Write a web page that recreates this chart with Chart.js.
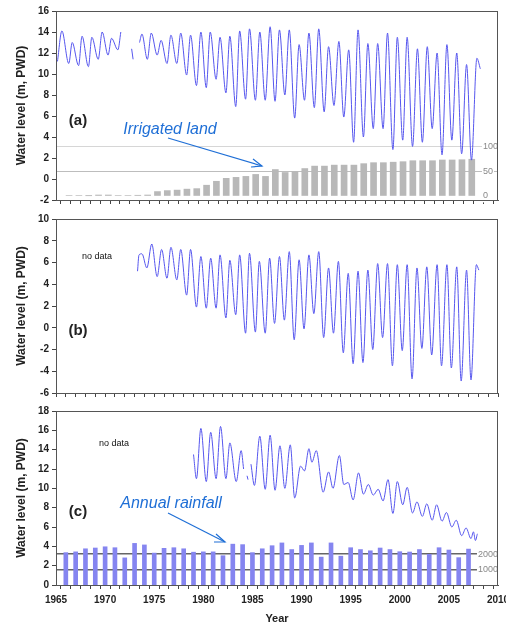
<!DOCTYPE html>
<html lang="en">
<head>
<meta charset="UTF-8">
<title>Water level hydrographs</title>
<script src="https://cdn.jsdelivr.net/npm/chart.js"></script>
<style>
  body { margin: 0; background: #fff; }
  #page { position: relative; width: 506px; height: 626px; overflow: hidden; font-family: "Liberation Sans", Arial, sans-serif; }
  canvas { position: absolute; left: 0; }
  .lbl { position: absolute; white-space: nowrap; transform: translate(-50%, -50%); }
  .panel { font-weight: bold; font-size: 15px; color: #222; }
  .nodata { font-size: 9px; color: #111; }
  .note { font-style: italic; font-size: 16px; color: #1f6fd6; }
  svg { position: absolute; left: 0; top: 0; }
</style>
</head>
<body>
<div id="page">
  <canvas id="chartA" width="506" height="210" style="top:0"></canvas>
  <canvas id="chartB" width="506" height="192" style="top:210px"></canvas>
  <canvas id="chartC" width="506" height="224" style="top:402px"></canvas>

  <div class="lbl panel" style="left:78px;top:119px">(a)</div>
  <div class="lbl panel" style="left:78px;top:329px">(b)</div>
  <div class="lbl panel" style="left:78px;top:510px">(c)</div>
  <div class="lbl nodata" style="left:97px;top:256px">no data</div>
  <div class="lbl nodata" style="left:114px;top:443px">no data</div>
  <div class="lbl note" style="left:170px;top:129px">Irrigated land</div>
  <div class="lbl note" style="left:171px;top:503px">Annual rainfall</div>
  <svg width="506" height="626">
    <g stroke="#1f6fd6" stroke-width="1.2" fill="none">
      <line x1="168" y1="138" x2="262" y2="166"/>
      <polyline points="253,159 262,166 251,167"/>
      <line x1="168" y1="513" x2="225" y2="542"/>
      <polyline points="216,534 225,542 214,542"/>
    </g>
  </svg>
</div>

<script>
// (a) water level, decimal year / m PWD (null = no record)
const timeA = [1965.15, 1965.6, 1966.3, 1966.65, 1967.3, 1967.65, 1968.3, 1968.65, 1969.3, 1969.7,
  1970.3, 1970.65, 1971.3, 1971.6, 1971.8, 1972.7, 1972.85, 1973.2, 1973.5, 1973.75,
  1974.3, 1974.7, 1975.3, 1975.7, 1976.3, 1976.7, 1977.3, 1977.7, 1978.3, 1978.7,
  1979.3, 1979.75, 1980.3, 1980.7, 1981.3, 1981.7, 1982.3, 1982.7, 1983.3, 1983.7,
  1984.3, 1984.7, 1985.3, 1985.75, 1986.3, 1986.8, 1987.3, 1987.75, 1988.3, 1988.75,
  1989.3, 1989.75, 1990.3, 1990.75, 1991.3, 1991.75, 1992.3, 1992.75, 1993.3, 1993.8,
  1994.3, 1994.8, 1995.3, 1995.75, 1996.3, 1996.75, 1997.3, 1997.75, 1998.3, 1998.75,
  1999.3, 1999.75, 2000.3, 2000.75, 2001.3, 2001.8, 2002.3, 2002.8, 2003.3, 2003.8,
  2004.3, 2004.8, 2005.3, 2005.8, 2006.3, 2006.8, 2007.3, 2007.85, 2008.2];
const levelA = [11.2, 14.1, 11.0, 13.0, 10.8, 13.6, 10.7, 13.5, 11.4, 14.0,
  11.8, 13.4, 12.3, 14.0, null, 12.4, 11.4, null, 13.0, 13.8,
  11.4, 13.9, 11.8, 13.2, 11.0, 13.7, 11.0, 13.9, 9.9, 13.7,
  8.9, 14.0, 8.7, 14.0, 9.5, 13.5, 8.2, 13.6, 6.9, 14.1,
  7.6, 14.3, 7.5, 14.0, 7.5, 14.5, 7.4, 14.2, 8.0, 14.2,
  5.8, 12.8, 7.5, 13.9, 6.8, 14.3, 6.4, 12.6, 7.0, 13.1,
  5.9, 12.3, 3.5, 14.2, 4.0, 12.9, 4.8, 12.9, 4.8, 13.9,
  2.8, 13.5, 3.7, 13.5, 3.1, 12.4, 3.5, 12.6, 4.8, 12.0,
  2.3, 12.8, 3.7, 12.0, 2.4, 10.9, 1.8, 11.5, 10.5];

// (b) water level
const timeB = [1973.3, 1973.45, 1973.75, 1974.25, 1974.75, 1975.3, 1975.75, 1976.3, 1976.7, 1977.3,
  1977.7, 1978.3, 1978.7, 1979.3, 1979.75, 1980.3, 1980.75, 1981.3, 1981.7, 1982.3,
  1982.7, 1983.3, 1983.7, 1984.3, 1984.7, 1985.3, 1985.7, 1986.3, 1986.75, 1987.25,
  1987.75, 1988.25, 1988.75, 1989.25, 1989.75, 1990.25, 1990.75, 1991.25, 1991.75, 1992.25,
  1992.75, 1993.25, 1993.75, 1994.25, 1994.75, 1995.25, 1995.75, 1996.25, 1996.75, 1997.25,
  1997.75, 1998.25, 1998.75, 1999.25, 1999.75, 2000.25, 2000.75, 2001.25, 2001.75, 2002.25,
  2002.75, 2003.25, 2003.8, 2004.25, 2004.8, 2005.25, 2005.8, 2006.25, 2006.8, 2007.25,
  2007.8, 2008.05];
const levelB = [5.2, 6.7, 6.8, 5.5, 7.7, 4.7, 7.2, 4.55, 7.4, 4.4,
  7.2, 3.0, 7.2, 1.9, 6.55, 1.8, 6.4, 1.8, 6.7, 0.9,
  6.2, 1.2, 6.7, -0.5, 6.85, -0.4, 6.1, -0.5, 6.4, 0.4,
  6.55, 0.7, 7.0, -1.1, 6.25, -0.1, 6.7, 1.3, 7.0, -0.9,
  5.5, -0.5, 6.1, -2.3, 5.0, -3.3, 5.2, -3.2, 5.3, -2.0,
  5.9, -0.9, 5.9, -3.5, 5.8, -2.1, 5.8, -4.7, 5.5, -1.9,
  5.6, -2.5, 5.8, -3.5, 5.8, -3.7, 5.6, -4.9, 5.3, -4.8,
  5.8, 5.3];

// (c) water level
const timeC = [1979.0, 1979.3, 1979.75, 1980.3, 1980.75, 1981.3, 1981.75, 1982.3, 1982.7, 1983.35,
  1983.85, 1984.1, 1984.3, 1984.45, 1984.55, 1984.7, 1984.85, 1985.2, 1985.75, 1986.3,
  1986.8, 1987.3, 1987.8, 1988.3, 1988.85, 1989.3, 1989.9, 1990.3, 1990.75, 1991.05,
  1991.5, 1992.2, 1992.75, 1993.2, 1993.85, 1994.3, 1994.75, 1995.25, 1995.8, 1996.3,
  1996.8, 1997.3, 1997.8, 1998.3, 1998.8, 1999.3, 1999.75, 2000.3, 2000.75, 2001.3,
  2001.75, 2002.3, 2002.75, 2003.3, 2003.75, 2004.3, 2004.75, 2005.3, 2005.75, 2006.3,
  2006.75, 2007.25, 2007.5, 2007.7, 2007.9];
const levelC = [13.5, 11.0, 16.2, 10.7, 15.8, 11.0, 16.4, 11.0, 14.7, 10.7,
  13.9, 12.0, null, 11.3, 10.9, null, 12.5, 10.3, 15.4, 9.9,
  15.5, 9.8, 14.4, 10.0, 14.5, 9.0, 12.3, 11.8, 14.1, 12.7,
  13.9, 9.6, 11.7, 10.0, 13.4, 10.4, 10.6, 8.8, 11.6, 9.4,
  10.4, 9.3, 9.9, 8.7, 10.9, 7.4, 10.7, 8.3, 10.1, 7.45,
  8.6, 7.1, 8.4, 6.7, 8.3, 6.6, 7.5, 6.0, 6.7, 5.1,
  5.9, 4.8, 5.5, 4.6, 5.3];

// bar years and annual values
const barYears = [1966, 1967, 1968, 1969, 1970, 1971, 1972, 1973, 1974, 1975, 1976, 1977, 1978, 1979,
  1980, 1981, 1982, 1983, 1984, 1985, 1986, 1987, 1988, 1989, 1990, 1991, 1992, 1993,
  1994, 1995, 1996, 1997, 1998, 1999, 2000, 2001, 2002, 2003, 2004, 2005, 2006, 2007];
const irrigatedPct = [1, 1, 0.5, 2, 2, 1, 1, 1.5, 2, 9, 11, 12, 14, 15,
  22, 30, 36, 38, 40, 44, 40, 54, 48, 50, 56, 61, 61, 63,
  63, 63, 66, 68, 68, 69, 70, 72, 72, 72, 73.5, 73.5, 74, 75];
const rainfallMm = [2100, 2150, 2350, 2400, 2480, 2420, 1760, 2700, 2600, 2070, 2380, 2420, 2350, 2130,
  2150, 2150, 1900, 2650, 2620, 2100, 2350, 2550, 2730, 2300, 2570, 2730, 1810, 2730,
  1870, 2420, 2300, 2220, 2400, 2300, 2160, 2140, 2300, 1990, 2420, 2270, 1775, 2330];

const irrigTicks = [0, 50, 100];
const rainTicks = [1000, 2000];

const FONT = '"Liberation Sans", Arial, sans-serif';
const LINE = '#5656ee';

const boxPlugin = {
  id: 'box',
  afterDraw(chart) {
    const { ctx, chartArea: a } = chart;
    ctx.save();
    ctx.strokeStyle = '#555';
    ctx.lineWidth = 1;
    ctx.strokeRect(a.left + 0.5, a.top + 0.5, a.right - a.left - 1, a.bottom - a.top);
    ctx.restore();
  }
};

function pts(xs, ys) {
  return xs.map((x, i) => ({ x: x, y: ys[i] }));
}

function makePanel(id, cfg) {
  const scales = {
    x: {
      type: 'linear', min: 1965, max: 2010, offset: false,
      ticks: {
        stepSize: 1, autoSkip: false, maxRotation: 0, padding: 5, color: '#222',
        font: { family: FONT, size: 10, weight: 'bold' },
        callback: v => (cfg.xLabels && Math.round(v) % 5 === 0) ? String(Math.round(v)) : ''
      },
      grid: { drawOnChartArea: false, tickLength: 4, color: '#444' },
      border: { color: '#555' },
      title: {
        display: !!cfg.xLabels, text: 'Year', color: '#222',
        font: { family: FONT, size: 11, weight: 'bold' }, padding: { top: 0, bottom: 0 }
      },
      afterFit: s => { s.height = cfg.xHeight; s.paddingLeft = 0; s.paddingRight = 0; }
    },
    y: {
      position: 'left', min: cfg.yMin, max: cfg.yMax,
      ticks: { stepSize: 2, padding: 3, color: '#222', font: { family: FONT, size: 10, weight: 'bold' } },
      grid: { drawOnChartArea: false, tickLength: 4, color: '#444' },
      border: { color: '#555' },
      title: {
        display: true, text: 'Water level (m, PWD)', color: '#222',
        font: { family: FONT, size: 12, weight: 'bold' }, padding: { top: 14, bottom: 0 }
      },
      afterFit: s => { s.width = 56; }
    },
    y2: {
      position: 'right', min: cfg.y2Min, max: cfg.y2Max,
      afterBuildTicks: s => { s.ticks = cfg.y2Ticks.map(v => ({ value: v })); },
      ticks: {
        mirror: true, crossAlign: 'far', padding: 0, color: '#888',
        font: { family: FONT, size: 9 },
        callback: v => String(v),
        showLabelBackdrop: true, backdropColor: '#fff', backdropPadding: 1
      },
      grid: {
        drawOnChartArea: true, drawTicks: false,
        color: c => (c.tick && c.tick.value === 0) ? 'rgba(0,0,0,0)' : cfg.gridColor(c.tick ? c.tick.value : 0),
        lineWidth: cfg.gridWidth
      },
      border: { display: false },
      afterFit: s => { s.width = 0; }
    }
  };

  const datasets = [{
    type: 'line', data: pts(cfg.time, cfg.level), yAxisID: 'y', order: 0,
    borderColor: LINE, borderWidth: 1, pointRadius: 0,
    cubicInterpolationMode: 'monotone', spanGaps: false
  }];
  if (cfg.bars) {
    datasets.push({
      type: 'bar', yAxisID: 'y2', order: 1,
      data: barYears.map((yr, i) => ({ x: yr + cfg.barShift, y: cfg.bars[i] })),
      backgroundColor: cfg.barColor, barThickness: cfg.barWidth, grouped: false
    });
  }

  return new Chart(document.getElementById(id), {
    data: { datasets: datasets },
    options: {
      responsive: false, animation: false,
      layout: { padding: { top: cfg.padTop, right: 8, left: 0, bottom: 0 } },
      plugins: { legend: { display: false }, tooltip: { enabled: false } },
      scales: scales
    },
    plugins: [boxPlugin]
  });
}

makePanel('chartA', {
  time: timeA, level: levelA, yMin: -2, yMax: 16, padTop: 11, xHeight: 10,
  bars: irrigatedPct, barColor: '#b8b8b8', barWidth: 6, barShift: 0.33,
  y2Min: -8.2, y2Max: 377.6, y2Ticks: irrigTicks,
  gridColor: v => v === 100 ? '#d6d6d6' : '#bdbdbd', gridWidth: 1
});

makePanel('chartB', {
  time: timeB, level: levelB, yMin: -6, yMax: 10, padTop: 9, xHeight: 9,
  y2Min: 0, y2Max: 1, y2Ticks: [],
  gridColor: () => 'rgba(0,0,0,0)', gridWidth: 1
});

makePanel('chartC', {
  time: timeC, level: levelC, yMin: 0, yMax: 18, padTop: 8, xHeight: 41, xLabels: true,
  bars: rainfallMm, barColor: '#8585f0', barWidth: 4, barShift: 0,
  y2Min: 0, y2Max: 11290, y2Ticks: rainTicks,
  gridColor: () => '#666', gridWidth: 1.5
});
</script>
</body>
</html>
